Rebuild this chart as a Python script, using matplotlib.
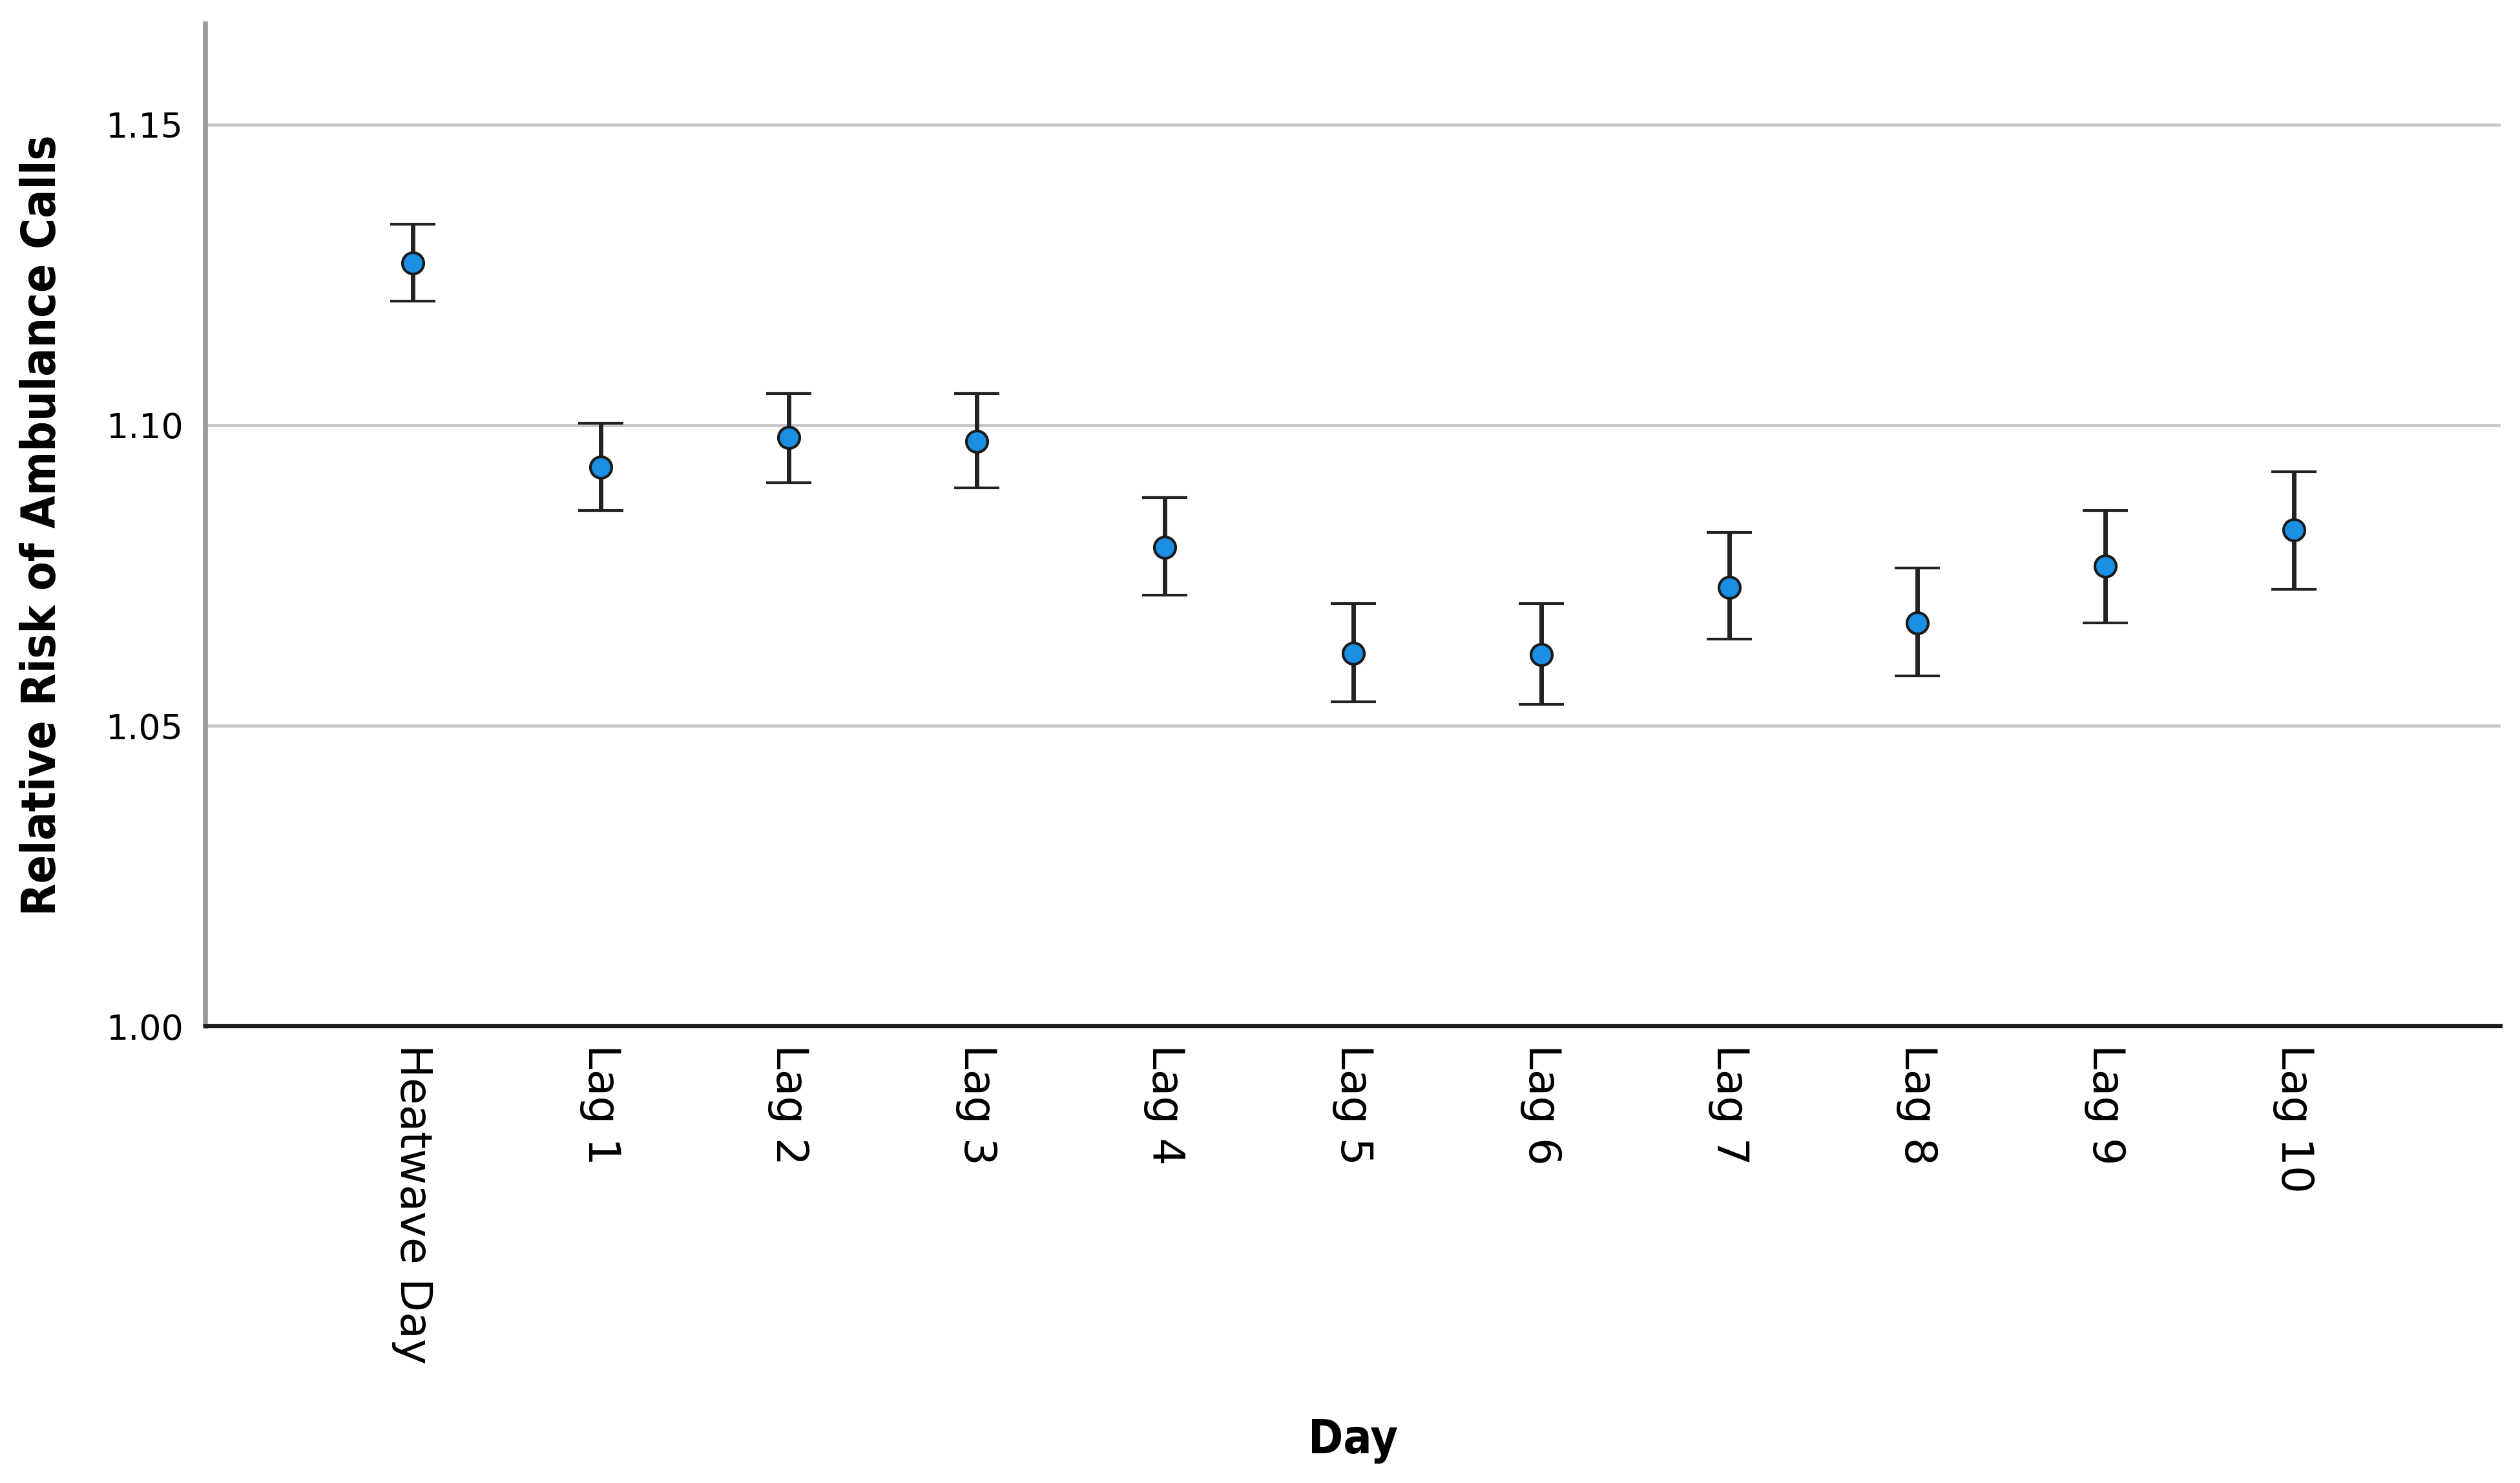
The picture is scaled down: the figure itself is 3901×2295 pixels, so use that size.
# -*- coding: utf-8 -*-
"""
Relative risk of ambulance calls on heatwave day and the following lag days
(point estimate with 95% CI error bars)
"""

import matplotlib.pyplot as plt
import numpy as np

#%% ######## 1) Data

days = ['Heatwave Day', 'Lag 1', 'Lag 2', 'Lag 3', 'Lag 4', 'Lag 5',
        'Lag 6', 'Lag 7', 'Lag 8', 'Lag 9', 'Lag 10']
rr = [1.1270, 1.0930, 1.0979, 1.0973, 1.0797, 1.0620,
      1.0618, 1.0730, 1.0671, 1.0765, 1.0826]           #relative risk
ci_low = [1.1206, 1.0858, 1.0904, 1.0896, 1.0717, 1.0540,
          1.0535, 1.0644, 1.0583, 1.0671, 1.0727]       #lower CI
ci_high = [1.1334, 1.1003, 1.1053, 1.1053, 1.0880, 1.0703,
           1.0703, 1.0821, 1.0762, 1.0858, 1.0922]      #upper CI

y_ticks = [1.00, 1.05, 1.10, 1.15]

#%% ######## 2) Plot

x = np.arange(len(days))
err = [np.array(rr) - np.array(ci_low), np.array(ci_high) - np.array(rr)]

fig = plt.figure(figsize=(15.604, 9.18), dpi=250)
ax = fig.add_axes([0.0816, 0.308, 0.9107, 0.6757])

ax.grid(axis='y', color='#c8c8c8', linewidth=1.4, zorder=0)
ax.set_axisbelow(True)

ax.errorbar(x, rr, yerr=err, fmt='o', color='#1a8fe3', markersize=9.5,
            markeredgecolor='#1a1a1a', markeredgewidth=1.2,
            ecolor='#222222', elinewidth=2.0, capsize=10, capthick=3.0,
            zorder=3)

ax.set_xlim(-1.1, 11.1)
ax.set_ylim(1.00, 1.1667)
ax.set_xticks(x)
ax.set_xticklabels(days, rotation=-90, fontsize=19.5)
ax.set_yticks(y_ticks)
ax.set_yticklabels(['%.2f' % t for t in y_ticks], fontsize=15.5)
ax.tick_params(axis='both', length=0)
ax.tick_params(axis='y', pad=10)
ax.tick_params(axis='x', pad=8)

for s in ['top', 'right']:
    ax.spines[s].set_visible(False)
ax.spines['left'].set_color('#9a9a9a')
ax.spines['left'].set_linewidth(2.2)
ax.spines['bottom'].set_color('#1a1a1a')
ax.spines['bottom'].set_linewidth(1.8)

ax.set_ylabel('Relative Risk of Ambulance Calls', fontsize=21,
              fontweight='bold', family='DejaVu Sans', stretch='condensed',
              labelpad=18)
ax.set_xlabel('Day', fontsize=21, fontweight='bold', family='DejaVu Sans',
              stretch='condensed', labelpad=24)

plt.savefig('out.png', dpi=250)
